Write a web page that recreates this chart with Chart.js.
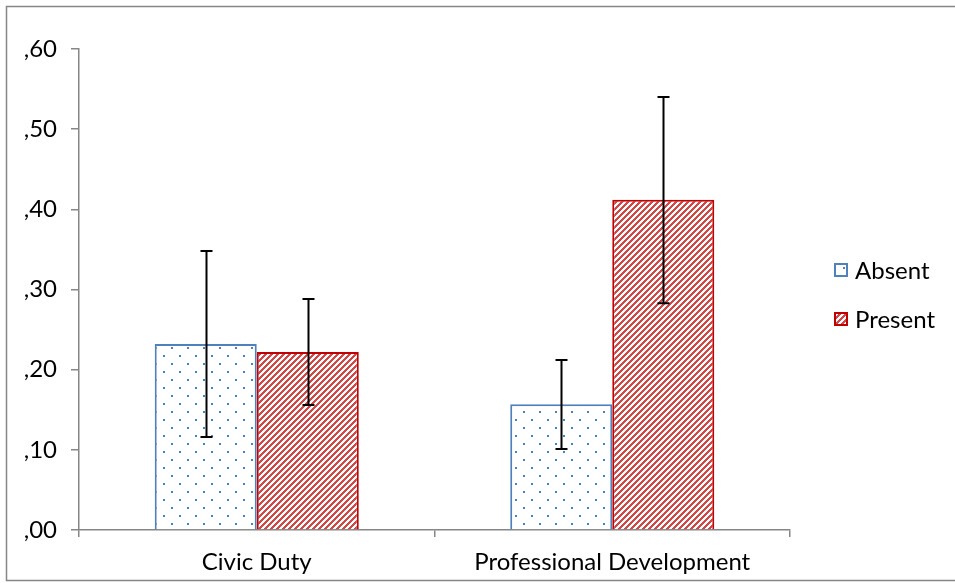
<!DOCTYPE html>
<html>
<head>
<meta charset="utf-8">
<script src="https://cdn.jsdelivr.net/npm/chart.js@4/dist/chart.umd.min.js"></script>
<style>
  html, body { margin: 0; padding: 0; background: #fff; }
  #wrap { width: 955px; height: 583px; }
</style>
</head>
<body>
<div id="wrap"><canvas id="chart" width="955" height="583"></canvas></div>
<script>
// ── Data ────────────────────────────────────────────────────────────────
var categories = ["Civic Duty", "Professional Development"];
var seriesNames = ["Absent", "Present"];
var absentValues = [0.232, 0.157];
var presentValues = [0.222, 0.412];
var absentLow = [0.116, 0.101];
var absentHigh = [0.348, 0.212];
var presentLow = [0.156, 0.283];
var presentHigh = [0.288, 0.540];
var yTicks = [0, 0.1, 0.2, 0.3, 0.4, 0.5, 0.6];

var FONT = "Lato";
var FONT_SIZE = 24;
var AXIS_GREY = "#868686";

// ── Fill patterns ───────────────────────────────────────────────────────
function dotPattern() {
    var c = document.createElement("canvas");
    c.width = 16; c.height = 16;
    var g = c.getContext("2d");
    g.fillStyle = "#fff";
    g.fillRect(0, 0, 16, 16);
    g.fillStyle = "#4f81bd";
    g.fillRect(3, 3, 2, 2);
    g.fillRect(11, 11, 2, 2);
    return g.createPattern(c, "repeat");
}
function stripePattern() {
    var c = document.createElement("canvas");
    c.width = 6; c.height = 6;
    var g = c.getContext("2d");
    g.fillStyle = "#fff";
    g.fillRect(0, 0, 6, 6);
    g.fillStyle = "#d04848";
    for (var x = 0; x < 6; x++) {
        for (var y = 0; y < 6; y++) {
            if ((x + y) % 6 < 3) { g.fillRect(x, y, 1, 1); }
        }
    }
    return g.createPattern(c, "repeat");
}

// ── Error bars ──────────────────────────────────────────────────────────
var errorBars = {
    id: "errorBars",
    afterDatasetsDraw: function (chart) {
        var ctx = chart.ctx;
        var y = chart.scales.y;
        var lows = [absentLow, presentLow];
        var highs = [absentHigh, presentHigh];
        ctx.save();
        ctx.strokeStyle = "#000";
        ctx.lineWidth = 2;
        chart.data.datasets.forEach(function (ds, di) {
            chart.getDatasetMeta(di).data.forEach(function (bar, i) {
                var x = Math.round(bar.x) + 0.5;
                var y1 = y.getPixelForValue(lows[di][i]);
                var y2 = y.getPixelForValue(highs[di][i]);
                ctx.beginPath();
                ctx.moveTo(x, y1); ctx.lineTo(x, y2);
                ctx.moveTo(x - 6, y1); ctx.lineTo(x + 6, y1);
                ctx.moveTo(x - 6, y2); ctx.lineTo(x + 6, y2);
                ctx.stroke();
            });
        });
        ctx.restore();
    }
};

// ── Frame + legend ──────────────────────────────────────────────────────
var frameAndLegend = {
    id: "frameAndLegend",
    afterDraw: function (chart) {
        var ctx = chart.ctx;
        ctx.save();
        ctx.strokeStyle = AXIS_GREY;
        ctx.lineWidth = 1.5;
        ctx.beginPath();
        ctx.moveTo(955, 6.5); ctx.lineTo(6.5, 6.5); ctx.lineTo(6.5, 580.5); ctx.lineTo(955, 580.5);
        ctx.stroke();

        var rows = [270, 319];
        ctx.font = FONT_SIZE + "px " + FONT;
        ctx.textBaseline = "middle";
        chart.data.datasets.forEach(function (ds, i) {
            var cy = rows[i];
            ctx.fillStyle = ds.backgroundColor;
            ctx.fillRect(835, cy - 6, 12, 12);
            ctx.strokeStyle = ds.borderColor;
            ctx.lineWidth = 2;
            ctx.strokeRect(835, cy - 6, 12, 12);
            ctx.fillStyle = "#000";
            ctx.fillText(ds.label, 855, cy + 1);
        });
        ctx.restore();
    }
};

new Chart(document.getElementById("chart"), {
    type: "bar",
    data: {
        labels: categories,
        datasets: [{
            label: seriesNames[0],
            data: absentValues,
            backgroundColor: dotPattern(),
            borderColor: "#4f81bd",
            borderWidth: 2,
        }, {
            label: seriesNames[1],
            data: presentValues,
            backgroundColor: stripePattern(),
            borderColor: "#c00000",
            borderWidth: 2,
        }],
    },
    plugins: [errorBars, frameAndLegend],
    options: {
        responsive: false,
        animation: false,
        events: [],
        categoryPercentage: 0.574,
        barPercentage: 1,
        layout: { padding: { left: 0, right: 165, top: 49, bottom: 0 } },
        plugins: { legend: { display: false }, tooltip: { enabled: false } },
        scales: {
            x: {
                afterFit: function (s) { s.height = 53; },
                border: { color: AXIS_GREY, width: 1.5 },
                grid: { offset: true, drawOnChartArea: false, drawTicks: true, tickLength: 7, color: AXIS_GREY, lineWidth: 1.5 },
                ticks: { color: "#000", font: { family: FONT, size: FONT_SIZE }, padding: 11 },
            },
            y: {
                min: 0,
                max: 0.6,
                afterFit: function (s) { s.width = 79; },
                afterBuildTicks: function (s) { s.ticks = yTicks.map(function (v) { return { value: v }; }); },
                border: { color: AXIS_GREY, width: 1.5 },
                grid: { drawOnChartArea: false, drawTicks: true, tickLength: 8, color: AXIS_GREY, lineWidth: 1.5 },
                ticks: {
                    color: "#000",
                    font: { family: FONT, size: FONT_SIZE },
                    padding: 14,
                    callback: function (v) { return "," + v.toFixed(2).split(".")[1]; },
                },
            },
        },
    },
});
</script>
</body>
</html>
